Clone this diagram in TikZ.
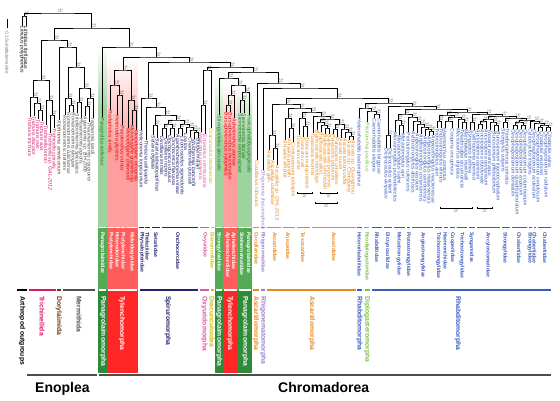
\documentclass[tikz,border=0pt]{standalone}
\usepackage{fontspec}
\setmainfont{Liberation Sans}
\usetikzlibrary{calc}
\definecolor{cM}{HTML}{D6186E}
\definecolor{cBr}{HTML}{6B3A14}
\definecolor{cGy}{HTML}{505050}
\definecolor{cGd}{HTML}{2E8B3A}
\definecolor{cGm}{HTML}{55AA55}
\definecolor{cGl}{HTML}{9ED29E}
\definecolor{cGt}{HTML}{1E7A1E}
\definecolor{cRd}{HTML}{FF2626}
\definecolor{cRm}{HTML}{FF5C5C}
\definecolor{cRl}{HTML}{FF9E9E}
\definecolor{cRt}{HTML}{E00000}
\definecolor{cN}{HTML}{24246E}
\definecolor{cP}{HTML}{E0559E}
\definecolor{cY}{HTML}{C8BE00}
\definecolor{cO}{HTML}{E8891D}
\definecolor{cPu}{HTML}{9A80CC}
\definecolor{cB}{HTML}{3B5BBE}
\definecolor{cLg}{HTML}{7CC242}
\tikzset{
  br/.style={line width=0.65pt},
  sp/.style={rotate=-90, anchor=west, inner sep=0.5pt, font=\fontsize{5.1}{5.5}\selectfont\itshape},
  sup/.style={anchor=south west, inner sep=0.1pt, xshift=0.2pt, align=left, text=black!80, font=\fontsize{2.1}{2.2}\selectfont},
  fam/.style={rotate=-90, anchor=west, inner sep=0pt, font=\fontsize{5.2}{5.5}\selectfont\bfseries},
  ord/.style={rotate=-90, anchor=west, inner sep=0pt, font=\fontsize{6.8}{7}\selectfont\bfseries},
  fbar/.style={line width=1.8pt},
  obar/.style={line width=2.4pt},
  brk/.style={line width=0.5pt},
}
\newcommand\mkleaf[5]{\coordinate (#1) at (#2,#3); \node[sp,text=#4] (#1t) at (#1) {#5};}
\newcommand\mknode[4]{%
  \path let \p1=(#2), \p2=(#3) in coordinate (#1) at ({0.5*(\x1+\x2)},{-(#4)*1pt});
  \draw[br] (#2) |- (#1) -| (#3);
  \node[sup] (#1s) at (#1) {1.00\\100};}
\newcommand\mkfam[6]{\draw[fbar,draw=#4] (#2,227.5) -- (#3,227.5); \node[fam,text=#4] (#1) at (#5,232) {#6};}
\newcommand\mkord[6]{\draw[obar,draw=#4] (#2,290) -- (#3,290); \node[ord,text=#4] (#1) at (#5,296) {#6};}
\begin{document}
\begin{tikzpicture}[x=1pt,y=-1pt]
\useasboundingbox (0,0) rectangle (560,400);
\fill[white] (0,0) rectangle (560,400);
% ---- coloured bands ----
\shade[top color=white, bottom color=cGl] (98,47) rectangle (107,110);
\fill[cGl] (98,110) rectangle (107,227.5);
\shade[top color=white, bottom color=cRl] (107,57) rectangle (138,150);
\fill[cRl] (107,150) rectangle (138,227.5);
\shade[top color=white, bottom color=cGl] (215,78) rectangle (223,140);
\fill[cGl] (215,140) rectangle (223,227.5);
\shade[top color=white, bottom color=cRl] (223,85) rectangle (237.5,150);
\fill[cRl] (223,150) rectangle (237.5,227.5);
\shade[top color=white, bottom color=cGl] (237.5,85) rectangle (252,140);
\fill[cGl] (237.5,140) rectangle (252,227.5);
\foreach \a/\b in {98/107,215/223,237.5/252}{
  \fill[cGm] (\a,227.5) rectangle (\b,290);
  \fill[cGd] (\a,290) rectangle (\b,373);}
\foreach \a/\b in {107/138,223/237.5}{
  \fill[cRm] (\a,227.5) rectangle (\b,290);
  \fill[cRd] (\a,290) rectangle (\b,373);}
% ---- scale bar ----
\coordinate (sb1) at (7,19); \coordinate (sb2) at (7,28);
\draw[line width=1pt] (sb1) -- (sb2);
\node[rotate=-90, anchor=west, inner sep=0pt, text=black!55, font=\fontsize{4.6}{5}\selectfont] (sbt) at (7,31) {0.1 Substitutions/site};
% ---- Arthropods ----
\mkleaf{A1}{22}{26}{black}{Limulus polyphemus}
\mkleaf{A2}{26}{26}{black}{Lithobius forficatus}
\mknode{Art}{A1}{A2}{16}
% ---- Trichinellida ----
\mkleaf{T1}{30}{117}{cM}{Trichuris trichiura}
\mkleaf{T2}{34}{116}{cM}{Trichuris discolor}
\mkleaf{T3}{38}{119}{cM}{Trichuris ovis}
\mkleaf{T4}{42}{121}{cM}{Trichuris suis}
\mkleaf{T5}{46}{125}{cM}{Trichinella britovi}
\mkleaf{T6}{50}{133}{cM}{Trichinella sp. GAL-2012}
\mkleaf{T7}{54}{128}{cM}{Trichinella spiralis}
\mknode{t34}{T3}{T4}{110}
\mknode{t234}{T2}{t34}{103}
\mknode{tru}{T1}{t234}{97}
\mknode{t67}{T6}{T7}{115}
\mknode{tla}{T5}{t67}{100}
\mknode{Tri}{tru}{tla}{80}
% ---- Dorylaimida + Mermithida ----
\mkleaf{D1}{59}{120}{cBr}{Xiphinema americanum}
\mkleaf{G1}{65}{115}{cGy}{Romanomermis nielseni}
\mkleaf{G2}{69}{112}{cGy}{Romanomermis culicivorax}
\mkleaf{G3}{73}{112}{cGy}{Romanomermis iyengari}
\mkleaf{G4}{77}{113}{cGy}{Strelkovimermis spiculatus}
\mkleaf{G5}{81}{118}{cGy}{Hexamermis agrotis}
\mkleaf{G6}{85}{116}{cGy}{Agamermis sp. BH-2006}
\mkleaf{G7}{89}{122}{cGy}{Thaumamermis cosgrovei}
\mkleaf{G8}{93}{118}{cGy}{Isomermis lairdi}
\mknode{g23}{G2}{G3}{105}
\mknode{gA}{G1}{g23}{98}
\mknode{g45}{G4}{G5}{102}
\mknode{g67}{G6}{G7}{106}
\mknode{g678}{g67}{G8}{98}
\mknode{gB}{g45}{g678}{88}
\mknode{Mer}{gA}{gB}{67}
\mknode{DM}{D1}{Mer}{47}
\mknode{Eno}{Tri}{DM}{40}
% ---- Chromadorea ----
\mkleaf{P1}{102}{117}{cGt}{Panagrellus redivivus}
\mkleaf{Y1}{110}{110}{cRt}{Radopholus similis}
\mkleaf{Y2}{117}{115}{cRt}{Heterodera glycines}
\mkleaf{Y3}{122}{125}{cRt}{Pratylenchus vulnus}
\mkleaf{Y4}{128}{128}{cRt}{Meloidogyne chitwoodi}
\mkleaf{Y5}{132}{125}{cRt}{Meloidogyne graminicola}
\mkleaf{Y6}{136}{130}{cRt}{Meloidogyne incognita}
\mknode{y23}{Y2}{Y3}{95}
\mknode{yL}{Y1}{y23}{85}
\mknode{y56}{Y5}{Y6}{110}
\mknode{yMel}{Y4}{y56}{100}
\mknode{Tyl1}{yL}{yMel}{70}
% Spiruromorpha
\mkleaf{S1}{141}{130}{cN}{Heliconema longissimum}
\mkleaf{S2}{146}{140}{cN}{Thelazia callipaeda}
\mkleaf{S3}{153}{135}{cN}{Setaria digitata}
\mkleaf{S4}{157}{138}{cN}{Setaria labiatopapillosa}
\mkleaf{F1}{162}{136}{cN}{Dirofilaria immitis}
\mkleaf{F2}{166}{138}{cN}{Dirofilaria repens}
\mkleaf{F3}{170}{135}{cN}{Onchocerca volvulus}
\mkleaf{F4}{174}{137}{cN}{Onchocerca flexuosa}
\mkleaf{F5}{178}{134}{cN}{Acanthocheilonema viteae}
\mkleaf{F6}{182}{136}{cN}{Litomosoides sigmodontis}
\mkleaf{F7}{186}{133}{cN}{Loa loa}
\mkleaf{F8}{190}{137}{cN}{Chandlerella quiscali}
\mkleaf{F9}{194}{139}{cN}{Wuchereria bancrofti}
\mkleaf{F10}{198}{138}{cN}{Brugia malayi}
\mknode{setn}{S3}{S4}{125}
\mknode{o12}{F1}{F2}{128}
\mknode{o34}{F3}{F4}{128}
\mknode{oA}{o12}{o34}{124}
\mknode{o56}{F5}{F6}{128}
\mknode{o910}{F9}{F10}{132}
\mknode{o8}{F8}{o910}{130}
\mknode{o78}{F7}{o8}{127}
\mknode{oB}{o56}{o78}{124}
\mknode{Onc}{oA}{oB}{120}
\mknode{s3}{setn}{Onc}{115}
\mknode{s2}{S2}{s3}{107}
\mknode{Spir}{S1}{s2}{98}
% Oxyuridomorpha + Dracunculoidea
\mkleaf{X1}{201}{132}{cP}{Wellcomia siamensis}
\mkleaf{X2}{205}{134}{cP}{Enterobius vermicularis}
\mknode{Oxy}{X1}{X2}{105}
\mkleaf{D2}{211}{128}{cY}{Dracunculus medinensis}
\mknode{OD}{Oxy}{D2}{70}
% Tylenchina
\mkleaf{S5}{219}{115}{cGt}{Strongyloides stercoralis}
\mkleaf{Z1}{226}{112}{cRt}{Bursaphelenchus xylophilus}
\mkleaf{Z2}{230}{112}{cRt}{Bursaphelenchus mucronatus}
\mkleaf{Z3}{234}{118}{cRt}{Aphelenchus avenae}
\mknode{z12}{Z1}{Z2}{105}
\mknode{red2}{z12}{Z3}{95}
\mkleaf{W1}{240}{113}{cGt}{Steinernema carpocapsae}
\mkleaf{W2}{244}{113}{cGt}{Steinernema litorale}
\mkleaf{W3}{249}{115}{cGt}{Halicephalobus gingivalis}
\mknode{w12}{W1}{W2}{100}
\mknode{grn3}{w12}{W3}{92}
\mknode{TylC2}{red2}{grn3}{85}
\mknode{TylC}{S5}{TylC2}{78}
% Ascaridomorpha
\mkleaf{Cu1}{257}{160}{cO}{Cucullanus robustus}
\mkleaf{Rh1}{263}{170}{cPu}{Rhigonema thysanophora}
\mkleaf{O1}{269}{150}{cO}{Ascaridia galli}
\mkleaf{O2}{273}{160}{cO}{Ascaridia columbae}
\mkleaf{O3}{277}{165}{cO}{Ascaridia sp. GHL-2013}
\mkleaf{O4}{285}{140}{cO}{Anisakis simplex}
\mkleaf{O5}{289}{138}{cO}{Anisakis pegreffii}
\mkleaf{O6}{293}{142}{cO}{Contracaecum rudolphii}
\mkleaf{O7}{299}{135}{cO}{Toxocara canis}
\mkleaf{O8}{303}{137}{cO}{Toxocara cati}
\mkleaf{O9}{307}{137}{cO}{Toxocara malaysiensis}
\mkleaf{O10}{313}{133}{cO}{Toxascaris leonina}
\mkleaf{O11}{317}{130}{cO}{Baylisascaris transfuga}
\mkleaf{O12}{321}{132}{cO}{Baylisascaris ailuri}
\mkleaf{O13}{325}{134}{cO}{Baylisascaris schroederi}
\mkleaf{O14}{329}{134}{cO}{Baylisascaris procyonis}
\mkleaf{O15}{333}{134}{cO}{Parascaris equorum}
\mkleaf{O16}{337}{137}{cO}{Parascaris univalens}
\mkleaf{O17}{341}{138}{cO}{Ascaris suum}
\mkleaf{O18}{345}{138}{cO}{Ascaris lumbricoides}
\mkleaf{O19}{349}{140}{cO}{Ascaris sp. Chongqing}
\mkleaf{O20}{353}{140}{cO}{Ascaris sp. Guangzhou}
\mknode{a23}{O2}{O3}{148}
\mknode{aA1}{O1}{a23}{135}
\mknode{a56}{O5}{O6}{128}
\mknode{aAn}{O4}{a56}{118}
\mknode{a89}{O8}{O9}{126}
\mknode{aTx}{O7}{a89}{118}
\mknode{a1920}{O19}{O20}{136}
\mknode{a18}{O18}{a1920}{132}
\mknode{a17}{O17}{a18}{129}
\mknode{a1516}{O15}{O16}{129}
\mknode{a15}{a1516}{a17}{124}
\mknode{a1314}{O13}{O14}{128}
\mknode{a1214}{O12}{a1314}{125}
\mknode{a1114}{O11}{a1214}{122}
\mknode{a1120}{a1114}{a15}{119}
\mknode{aAs2}{O10}{a1120}{116}
\mknode{aY}{aTx}{aAs2}{112}
\mknode{aX}{aAn}{aY}{108}
\mknode{AscC}{aA1}{aX}{104}
% Rhabditomorpha + Diplogasteromorpha
\mkleaf{H1}{359}{118}{cB}{Heterorhabditis bacteriophora}
\mkleaf{N1}{367}{122}{cLg}{Pristionchus pacificus}
\mkleaf{R1}{374}{118}{cB}{Caenorhabditis elegans}
\mkleaf{R2}{379}{118}{cB}{Caenorhabditis briggsae}
\mknode{rR}{R1}{R2}{114}
\mknode{rB}{N1}{rR}{111}
\mknode{rA}{H1}{rB}{108}
\mkleaf{Dc1}{386}{148}{cB}{Dictyocaulus viviparus}
\mkleaf{Dc2}{390}{148}{cB}{Dictyocaulus eckerti}
\mknode{Dcn}{Dc1}{Dc2}{135}
\mkleaf{M1}{395}{132}{cB}{Metastrongylus pudendotectus}
\mkleaf{M2}{399}{135}{cB}{Metastrongylus salmi}
\mkleaf{M3}{403}{133}{cB}{Metastrongylus apri}
\mknode{m23}{M2}{M3}{125}
\mknode{Mc}{M1}{m23}{120}
\mkleaf{Pr1}{408}{132}{cB}{Protostrongylus rufescens}
\mkleaf{An1}{413}{131}{cB}{Aelurostrongylus abstrusus}
\mkleaf{An2}{417}{133}{cB}{Angiostrongylus vasorum}
\mkleaf{An3}{421}{134}{cB}{Angiostrongylus costaricensis}
\mkleaf{An4}{425}{136}{cB}{Angiostrongylus cantonensis}
\mkleaf{An5}{429}{136}{cB}{Angiostrongylus malaysiensis}
\mkleaf{An6}{433}{135}{cB}{Angiostrongylus mackerrasae}
\mknode{an56}{An5}{An6}{131}
\mknode{anc}{An4}{an56}{129}
\mknode{anb}{An3}{anc}{127}
\mknode{ana}{An2}{anb}{124}
\mknode{Ang}{An1}{ana}{121}
\mknode{PA}{Pr1}{Ang}{117}
\mknode{MPA}{Mc}{PA}{114}
\mkleaf{Ts1}{437}{128}{cB}{Trichostrongylus axei}
\mkleaf{Ts2}{441}{128}{cB}{Trichostrongylus vitrinus}
\mkleaf{Hc1}{445}{128}{cB}{Haemonchus contortus}
\mkleaf{Co1}{452}{128}{cB}{Cooperia oncophora}
\mkleaf{Ts3}{458}{128}{cB}{Mecistocirrus digitatus}
\mkleaf{Ts4}{462}{129}{cB}{Teladorsagia circumcincta}
\mkleaf{Ts5}{466}{129}{cB}{Marshallagia marshalli}
\mknode{t12b}{Ts1}{Ts2}{121}
\mknode{tHC}{Hc1}{Co1}{121}
\mknode{t45}{Ts4}{Ts5}{122}
\mknode{t345}{Ts3}{t45}{119}
\mknode{tHC5}{tHC}{t345}{117}
\mknode{TC}{t12b}{tHC5}{115}
\mkleaf{Sy1}{470}{130}{cB}{Syngamus trachea}
\mkleaf{Sy2}{474}{130}{cB}{Cyathostoma phenisci}
\mknode{Syn}{Sy1}{Sy2}{122}
\mkleaf{Ac1}{478}{129}{cB}{Ancylostoma caninum}
\mkleaf{Ac2}{482}{129}{cB}{Ancylostoma duodenale}
\mkleaf{Ac3}{486}{129}{cB}{Ancylostoma ceylanicum}
\mkleaf{Ac4}{490}{130}{cB}{Necator americanus}
\mkleaf{Ac5}{494}{131}{cB}{Bunostomum phlebotomum}
\mkleaf{Ac6}{498}{131}{cB}{Bunostomum trigonocephalum}
\mknode{ac12}{Ac1}{Ac2}{124}
\mknode{ac123}{ac12}{Ac3}{121}
\mknode{ac56}{Ac5}{Ac6}{125}
\mknode{ac456}{Ac4}{ac56}{122}
\mknode{Ancy}{ac123}{ac456}{119}
\mkleaf{St1}{503}{128}{cB}{Strongylus vulgaris}
\mkleaf{St2}{507}{128}{cB}{Triodontophorus serratus}
\mknode{Stn}{St1}{St2}{122}
\mkleaf{Ch1}{513}{129}{cB}{Oesophagostomum dentatum}
\mkleaf{Ch2}{517}{129}{cB}{Oesophagostomum quadrispinulatum}
\mkleaf{Ch3}{521}{129}{cB}{Oesophagostomum asperum}
\mkleaf{Ch4}{525}{129}{cB}{Oesophagostomum columbianum}
\mkleaf{St3}{530}{128}{cB}{Cylicocyclus insignis}
\mkleaf{Ch5}{534}{129}{cB}{Oesophagostomum aculeatum}
\mkleaf{Ch6}{538}{131}{cB}{Oesophagostomum venulosum}
\mkleaf{Ch7}{542}{131}{cB}{Chabertia erschowi}
\mkleaf{Ch8}{546}{131}{cB}{Oesophagostomum radiatum}
\mkleaf{Ch9}{550}{131}{cB}{Chabertia ovina}
\mknode{c12}{Ch1}{Ch2}{125}
\mknode{c34}{Ch3}{Ch4}{125}
\mknode{c1234}{c12}{c34}{122}
\mknode{c67}{Ch6}{Ch7}{127}
\mknode{c89}{Ch8}{Ch9}{127}
\mknode{c69}{c67}{c89}{125}
\mknode{c59}{Ch5}{c69}{123}
\mknode{cs9}{St3}{c59}{121}
\mknode{Chc}{c1234}{cs9}{120}
\mknode{StCh}{Stn}{Chc}{118}
\mknode{SB}{Ancy}{StCh}{116}
\mknode{SA}{Syn}{SB}{114}
\mknode{sU}{TC}{SA}{112}
\mknode{sT}{MPA}{sU}{109}
\mknode{sS}{Dcn}{sT}{106}
\mknode{RhabC}{rA}{sS}{103}
% backbone
\mknode{C7}{AscC}{RhabC}{98}
\mknode{C6}{Rh1}{C7}{88}
\mknode{C5}{Cu1}{C6}{83}
\mknode{C4}{TylC}{C5}{72}
\mknode{C3}{OD}{C4}{67}
\mknode{C2}{Spir}{C3}{62}
\mknode{C1}{Tyl1}{C2}{57}
\mknode{Chr}{P1}{C1}{47}
\mknode{Nem}{Eno}{Chr}{28}
\mknode{Root}{Art}{Nem}{13}
% ---- brackets ----
\foreach \a/\b/\y [count=\i] in {297/312/193,320/337/193,315/337/203,440/472/208,477/492/208}{
  \draw[brk] (\a,\y-1.2) -- (\a,\y+1.2) (\a,\y) -- (\b,\y) (\b,\y-1.2) -- (\b,\y+1.2);
  \node[sup,anchor=north] (bk\i) at ({(\a+\b)/2},\y+1) {1.00\\100};}
% ---- families ----
\mkfam{f1}{99}{106}{white}{102.5}{Panagrolaimidae}
\mkfam{f2}{108}{114}{white}{111}{Pratylenchidae}
\mkfam{f3}{115}{120}{white}{117.5}{Heteroderidae}
\mkfam{f4}{121}{125}{white}{123}{Pratylenchidae}
\mkfam{f5}{127}{137}{white}{132}{Meloidogynidae}
\mkfam{f6}{139}{144}{cN}{142}{Physalopteridae}
\mkfam{f7}{145}{150}{cN}{147.5}{Thelaziidae}
\mkfam{f8}{152}{160}{cN}{156}{Setariidae}
\mkfam{f9}{162}{198}{cN}{178}{Onchocercidae}
\mkfam{f10}{200}{209}{cP}{205}{Oxyuridae}
\mkfam{f11}{210.5}{214}{cY}{212.5}{Dracunculidae}
\mkfam{f12}{216}{222}{white}{219}{Strongyloididae}
\mkfam{f13}{224}{230}{white}{227.5}{Aphelenchoididae}
\mkfam{f14}{231}{236.5}{white}{233.5}{Aphelenchidae}
\mkfam{f15}{239}{245}{white}{242}{Steinernematidae}
\mkfam{f16}{246}{251}{white}{248.5}{Panagrolaimidae}
\mkfam{f17}{253}{259}{cO}{256.5}{Cucullanidae}
\mkfam{f18}{261}{265}{cPu}{263}{Rhigonematidae}
\mkfam{f19}{267}{281}{cO}{275}{Ascarididae}
\mkfam{f20}{283}{295}{cO}{288}{Anisakidae}
\mkfam{f21}{297}{310}{cO}{303}{Toxocaridae}
\mkfam{f22}{312}{356}{cO}{334}{Ascarididae}
\mkfam{f23}{357}{362}{cB}{359.5}{Heterorhabditidae}
\mkfam{f24}{364}{369}{cLg}{367}{Neodiplogasteridae}
\mkfam{f25}{372}{382}{cB}{377}{Rhabditidae}
\mkfam{f26}{383.5}{392}{cB}{387.5}{Dictyocaulidae}
\mkfam{f27}{394}{405}{cB}{399}{Metastrongylidae}
\mkfam{f28}{407}{410}{cB}{408.5}{Protostrongylidae}
\mkfam{f29}{412}{433}{cB}{423}{Angiostrongylidae}
\mkfam{f30}{435}{442}{cB}{438.5}{Trichostrongylidae}
\mkfam{f31}{443.5}{448}{cB}{445.5}{Haemonchidae}
\mkfam{f32}{450}{455}{cB}{452.5}{Cooperiidae}
\mkfam{f33}{457}{467}{cB}{462}{Trichostrongylidae}
\mkfam{f34}{468.5}{475}{cB}{471.5}{Syngamidae}
\mkfam{f35}{477}{500}{cB}{488}{Ancylostomatidae}
\mkfam{f36}{502}{510}{cB}{505}{Strongylidae}
\mkfam{f37}{512}{527}{cB}{519}{Chabertiidae}
\mkfam{f38}{528.5}{532}{cB}{530}{Strongylidae}
\mkfam{f39}{533.5}{536}{cB}{534.5}{Chabertiidae}
\mkfam{f40}{538}{551}{cB}{545}{Chabertiidae}
% ---- orders ----
\mkord{r1}{17}{27}{black}{22}{Arthropod outgroups}
\mkord{r2}{28.5}{56}{cM}{42}{Trichinellida}
\mkord{r3}{57}{61}{cBr}{59}{Dorylaimida}
\mkord{r4}{63}{95}{cGy}{79}{Mermithida}
\mkord{r5}{99}{106}{white}{103}{Panagrolaimomorpha}
\mkord{r6}{108}{137}{white}{122}{Tylenchomorpha}
\mkord{r7}{140}{198}{cN}{168}{Spiruromorpha}
\mkord{r8}{200}{209}{cP}{204.5}{Oxyuridomorpha}
\mkord{r9}{210.5}{214}{cY}{212}{Dracunculoidea}
\mkord{r10}{216}{222}{white}{219}{Panagrolaimomorpha}
\mkord{r11}{224}{236.5}{white}{230}{Tylenchomorpha}
\mkord{r12}{239}{251}{white}{245}{Panagrolaimomorpha}
\mkord{r13}{253}{259}{cO}{256}{Ascaridomorpha}
\mkord{r14}{261}{265}{cPu}{263}{Rhigonematomorpha}
\mkord{r15}{267}{356}{cO}{312}{Ascaridomorpha}
\mkord{r16}{357}{362}{cB}{359.5}{Rhabditomorpha}
\mkord{r17}{365}{370}{cLg}{367}{Diplogasteromorpha}
\mkord{r18}{372}{551}{cB}{458}{Rhabditomorpha}
% ---- classes ----
\coordinate (e1) at (27,375); \coordinate (e2) at (97,375);
\coordinate (h1) at (99,375); \coordinate (h2) at (551,375);
\draw[line width=1.3pt, black!70] (e1) -- (e2);
\draw[line width=1.3pt, black!70] (h1) -- (h2);
\node[anchor=base west, inner sep=0pt, font=\fontsize{14}{16}\selectfont\bfseries] (cEno) at (35,392) {Enoplea};
\node[anchor=base west, inner sep=0pt, font=\fontsize{14}{16}\selectfont\bfseries] (cChr) at (278,392) {Chromadorea};
\end{tikzpicture}
\end{document}
